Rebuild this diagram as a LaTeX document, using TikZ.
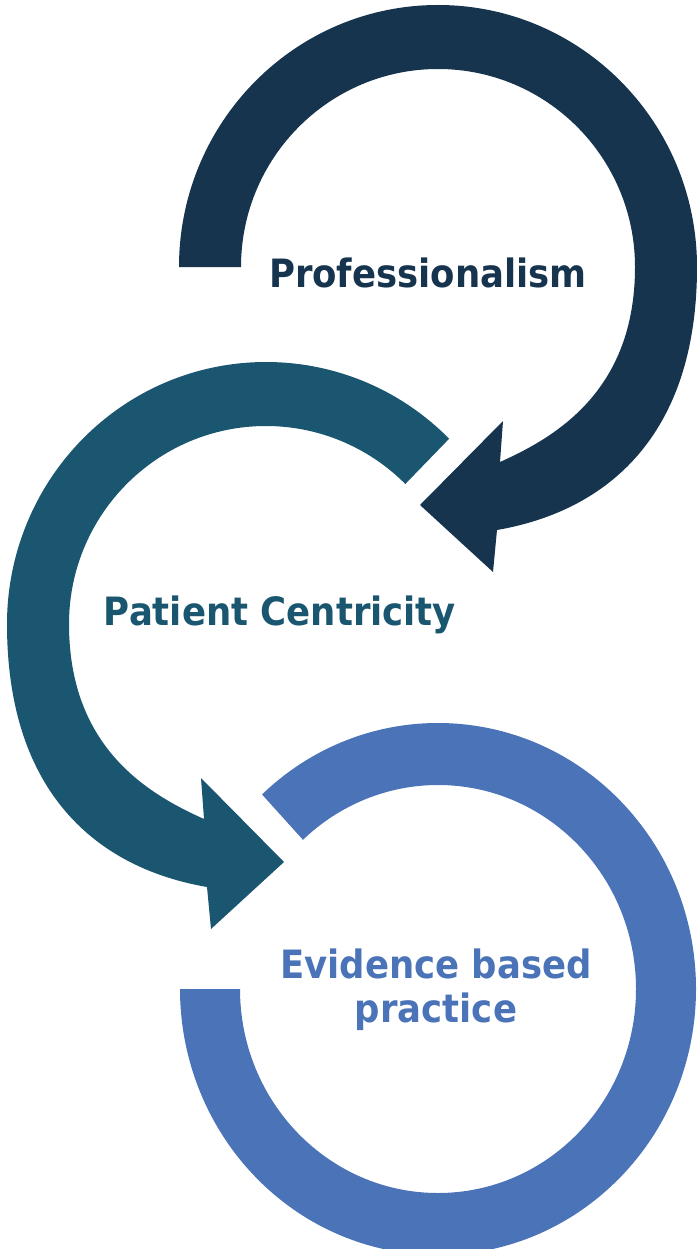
\documentclass[tikz,border=0pt]{standalone}
\usepackage{fontspec}
\setmainfont[FakeStretch=0.91]{DejaVu Sans}
\usepackage{tikz}

\definecolor{darknavy}{HTML}{17344F}
\definecolor{deepteal}{HTML}{1A5670}
\definecolor{softblue}{HTML}{4A73B8}

% ring with arrow head, drawn round (0,0); #1 = angle where the ring starts
\newcommand{\ringarrow}[1]{%
  \fill (#1:259 and 262) arc[start angle=#1, end angle=360, x radius=259, y radius=262]
    .. controls (259,169.5) and (168.3,244.1) .. (59,263)
    -- (55,305) -- (-18,238) -- (65,154) -- (62,195)
    .. controls (116.7,170.4) and (197,124.6) .. (197,0)
    arc[start angle=360, end angle=#1, x radius=197, y radius=198] -- cycle;}

\begin{document}
\begin{tikzpicture}[x=1pt,y=-1pt,
  ringtext/.style={font=\bfseries\fontsize{39}{44}\selectfont, inner sep=0pt, align=center}]

\useasboundingbox (0,0) rectangle (696,1249);

\coordinate (c1) at (438,267);
\coordinate (c2) at (266,624);
\coordinate (c3) at (438,989);

% first ring, arrow ends at the second
\begin{scope}[shift={(c1)}, darknavy]
  \ringarrow{180}
\end{scope}

% second ring, mirrored
\begin{scope}[shift={(c2)}, xscale=-1, deepteal]
  \ringarrow{225}
\end{scope}

% third ring
\fill[softblue] (c3) ++(-133:258 and 266) arc[start angle=-133, end angle=180, x radius=258, y radius=266]
    -- ++(60,0) arc[start angle=180, end angle=-133, x radius=198, y radius=204] -- cycle;

\node[ringtext, text=darknavy, anchor=base] (prof) at (428,287) {Professionalism};
\node[ringtext, text=deepteal, anchor=base] (patient) at (280,625) {Patient Centricity};
\node[ringtext, text=softblue, anchor=base] (evidence) at (436,1022) {Evidence based\\practice};

\end{tikzpicture}
\end{document}
